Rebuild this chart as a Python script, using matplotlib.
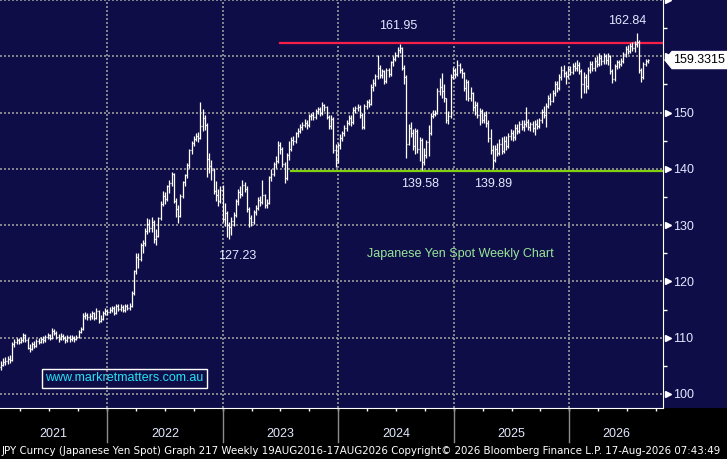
import numpy as np
import matplotlib
matplotlib.use('Agg')
import matplotlib.pyplot as plt
import matplotlib.transforms as mtrans
from matplotlib.collections import LineCollection
from matplotlib.patches import Polygon, Rectangle

plt.rcParams['font.family'] = ['Liberation Sans', 'DejaVu Sans']

# weekly USDJPY bars (close, high, low); open = previous close
first_open = 104.8
closes = [
105.2, 105.6, 105.9, 106.2, 106.0, 108.8, 109.2, 109.5, 109.3, 109.6,
110.5, 109.6, 108.2, 108.0, 108.9, 108.6, 109.4, 109.2, 109.8, 109.6,
110.1, 110.4, 110.0, 111.2, 110.9, 110.2, 109.8, 110.3, 110.0, 109.6,
110.2, 109.7, 110.0, 109.8, 110.1, 111.0, 111.6, 113.9, 114.0, 113.6,
113.8, 114.3, 113.5, 114.8, 113.0, 113.4, 114.4, 114.8, 114.6, 115.0,
115.3, 114.4, 115.6, 115.1, 115.5, 114.9, 115.6, 115.2, 115.7, 117.9,
121.8, 124.3, 123.9, 126.5, 126.8, 128.9, 130.2, 129.5, 130.6, 127.5,
128.0, 131.2, 133.8, 135.2, 134.6, 136.9, 137.4, 139.1, 134.3, 132.8,
131.7, 135.2, 137.6, 138.9, 140.6, 143.3, 144.6, 145.3, 145.9, 145.5,
147.6, 149.1, 147.8, 141.8, 140.5, 139.8, 136.0, 135.4, 134.2, 136.2,
131.1, 132.2, 130.0, 129.6, 130.7, 131.8, 134.3, 135.9, 135.6, 137.1,
136.5, 132.8, 131.2, 130.6, 132.3, 133.1, 134.5, 134.1, 135.3, 133.6,
134.0, 138.5, 139.1, 140.8, 141.4, 144.2, 143.5, 140.9, 138.4, 142.5,
143.6, 145.1, 144.9, 146.3, 146.8, 147.4, 147.8, 148.2, 147.7, 149.3,
149.6, 149.2, 150.3, 150.6, 149.9, 151.3, 150.9, 149.2, 147.6, 148.9,
143.4, 141.5, 144.2, 145.5, 146.3, 147.3, 148.2, 149.1, 148.3, 150.5,
150.8, 151.0, 149.6, 147.4, 151.2, 151.8, 151.6, 154.5, 155.3, 156.5,
158.0, 156.6, 157.3, 155.6, 157.5, 156.8, 158.9, 159.5, 160.2, 161.2,
161.4, 158.0, 156.3, 144.5, 147.3, 146.4, 144.0, 146.8, 143.5, 145.1,
141.2, 142.4, 144.7, 146.3, 149.4, 149.8, 150.0, 153.9, 154.6, 153.8,
152.5, 148.7, 149.4, 156.4, 157.5, 156.8, 158.4, 157.6, 157.0, 154.3,
155.5, 152.6, 153.4, 150.9, 151.3, 149.6, 150.2, 148.7, 149.5, 148.2,
145.4, 143.3, 141.6, 143.5, 142.8, 144.5, 143.1, 145.0, 144.0, 145.8,
146.3, 145.6, 147.3, 146.8, 148.0, 147.4, 147.9, 148.3, 147.4, 147.9,
147.3, 148.0, 147.6, 148.6, 150.1, 149.6, 151.2, 152.6, 152.1, 153.4,
155.1, 154.4, 156.3, 157.5, 157.0, 156.5, 157.8, 157.2, 158.3, 157.9,
158.5, 157.4, 155.0, 156.3, 154.8, 157.6, 158.6, 157.9, 159.2, 158.7,
159.7, 159.1, 160.0, 159.3, 160.1, 157.3, 156.0, 158.2, 158.9, 158.6,
159.2, 160.4, 161.3, 161.0, 161.8, 161.5, 162.2, 162.6, 157.6, 156.4,
158.6, 159.1, 159.3315]
highs = [
105.9, 106.3, 106.5, 106.8, 106.9, 109.2, 109.8, 110.0, 110.0, 110.2,
110.9, 110.7, 109.9, 108.8, 109.3, 109.4, 109.8, 109.9, 110.2, 110.3,
110.5, 110.8, 110.7, 111.7, 111.5, 111.1, 110.6, 110.8, 110.6, 110.3,
110.5, 110.4, 110.4, 110.3, 110.5, 111.4, 111.9, 114.4, 114.5, 114.4,
114.3, 114.7, 114.6, 115.3, 114.9, 114.0, 114.8, 115.2, 115.1, 115.4,
115.7, 115.6, 116.0, 115.9, 115.9, 115.8, 116.0, 115.9, 116.2, 118.3,
122.0, 125.0, 125.1, 126.8, 127.4, 129.4, 131.2, 131.0, 131.4, 130.9,
129.3, 131.5, 134.2, 136.0, 135.9, 137.2, 138.0, 139.4, 139.2, 134.9,
133.5, 135.5, 137.9, 139.1, 141.0, 143.6, 144.9, 145.9, 146.3, 146.6,
151.9, 150.6, 149.6, 148.1, 142.8, 141.6, 140.2, 137.9, 136.4, 137.0,
137.2, 133.9, 132.5, 130.6, 131.4, 132.3, 134.6, 136.4, 136.9, 138.0,
137.6, 136.9, 133.3, 131.8, 132.7, 133.6, 135.0, 135.1, 138.0, 135.6,
134.6, 138.8, 140.0, 141.3, 142.2, 145.0, 144.8, 143.9, 141.2, 142.9,
145.0, 145.6, 145.8, 146.6, 147.3, 147.9, 148.3, 148.8, 148.7, 149.7,
150.0, 150.1, 150.6, 151.0, 150.9, 151.9, 151.6, 151.1, 149.6, 149.5,
149.2, 144.5, 144.6, 146.2, 146.8, 147.8, 148.6, 149.5, 149.6, 150.9,
151.2, 151.5, 151.4, 149.9, 151.6, 152.2, 152.4, 155.0, 156.0, 156.9,
160.2, 158.4, 157.8, 157.6, 157.9, 157.9, 159.2, 160.0, 160.7, 161.6,
162.1, 161.6, 158.4, 156.6, 148.0, 148.3, 147.0, 147.2, 147.1, 145.6,
145.4, 143.7, 145.1, 147.8, 150.0, 150.4, 150.5, 154.4, 156.2, 157.0,
155.0, 152.6, 150.2, 156.9, 158.1, 158.0, 159.3, 158.8, 158.0, 157.2,
156.0, 155.8, 154.6, 153.6, 152.0, 151.8, 150.8, 150.6, 150.1, 150.2,
148.6, 147.0, 144.3, 144.2, 144.6, 145.3, 145.7, 145.9, 145.8, 146.4,
147.1, 146.9, 147.9, 148.0, 148.5, 148.6, 148.6, 151.0, 148.8, 148.4,
148.5, 148.6, 148.9, 149.0, 150.6, 151.2, 151.7, 153.1, 153.4, 154.0,
155.6, 155.6, 156.9, 158.2, 158.4, 157.4, 158.3, 158.2, 158.8, 158.9,
159.3, 158.9, 157.8, 157.2, 156.9, 158.1, 159.1, 159.2, 159.8, 160.0,
160.5, 160.3, 160.6, 160.4, 160.6, 160.3, 157.8, 158.7, 159.4, 159.3,
159.7, 160.8, 161.9, 162.0, 162.4, 162.5, 162.8, 164.1, 162.9, 158.0,
159.0, 159.6, 159.6]
lows = [
104.2, 104.9, 105.1, 105.4, 105.5, 105.9, 108.3, 108.8, 108.8, 109.0,
109.3, 109.2, 107.9, 107.5, 107.8, 108.2, 108.3, 108.8, 109.0, 109.1,
109.3, 109.8, 109.6, 109.8, 110.5, 109.8, 109.2, 109.6, 109.5, 109.1,
109.2, 109.3, 109.4, 109.3, 109.5, 109.9, 110.8, 111.4, 113.4, 113.1,
113.1, 113.4, 113.2, 113.3, 112.6, 112.7, 113.1, 114.1, 114.1, 114.3,
114.6, 114.1, 114.2, 114.7, 114.8, 114.5, 114.6, 114.9, 115.0, 115.5,
117.6, 121.3, 122.4, 123.6, 125.0, 126.3, 128.4, 128.8, 128.7, 126.9,
126.4, 127.8, 130.9, 133.4, 133.8, 134.3, 135.7, 136.9, 133.9, 131.5,
130.4, 131.5, 134.8, 137.0, 138.3, 140.2, 142.6, 144.0, 144.9, 144.8,
145.3, 146.8, 146.9, 138.5, 139.3, 138.0, 135.6, 134.3, 133.4, 133.9,
130.5, 129.8, 127.9, 127.6, 128.3, 129.9, 131.4, 133.6, 134.8, 135.2,
135.8, 132.3, 129.7, 129.9, 130.2, 131.8, 132.6, 133.4, 133.8, 133.1,
133.0, 133.8, 137.9, 138.7, 140.2, 141.1, 142.6, 140.4, 137.5, 138.1,
141.6, 143.1, 144.2, 144.6, 145.7, 146.4, 146.9, 147.4, 147.1, 147.5,
148.7, 148.6, 148.9, 149.8, 149.3, 149.6, 150.3, 148.8, 147.0, 147.1,
142.8, 140.3, 141.0, 143.6, 145.0, 145.8, 146.7, 147.7, 147.6, 148.0,
149.9, 150.2, 149.0, 147.0, 147.1, 150.7, 150.9, 151.3, 153.8, 154.8,
156.0, 156.1, 156.2, 155.0, 155.2, 156.3, 156.5, 158.3, 159.1, 159.8,
160.5, 157.6, 155.0, 141.9, 144.2, 145.6, 143.4, 142.6, 142.9, 141.4,
139.8, 140.6, 141.9, 142.3, 146.0, 149.0, 149.3, 149.7, 153.1, 152.5,
151.8, 148.2, 148.0, 149.1, 156.0, 156.2, 156.5, 157.0, 156.1, 153.8,
152.3, 152.0, 152.1, 150.3, 149.5, 149.1, 147.8, 148.1, 148.2, 147.5,
144.8, 142.7, 140.0, 141.2, 142.2, 142.4, 142.6, 142.9, 143.4, 143.7,
145.2, 144.9, 145.1, 146.2, 146.4, 146.9, 146.8, 147.5, 146.9, 146.8,
146.5, 146.0, 147.0, 147.2, 148.2, 149.0, 147.4, 150.8, 151.3, 151.8,
153.0, 153.7, 154.0, 155.8, 156.4, 155.0, 156.1, 156.6, 156.9, 157.3,
157.4, 156.8, 152.5, 153.5, 153.4, 154.2, 157.0, 157.3, 157.4, 158.1,
158.2, 158.5, 158.6, 158.7, 158.5, 156.9, 155.2, 155.6, 157.7, 158.0,
158.2, 158.8, 159.9, 160.4, 160.6, 160.9, 160.8, 161.7, 157.1, 155.4,
156.0, 158.2, 158.8]

resistance = 162.4
support = 139.66
peak_labels = ['161.95', '162.84']
trough_labels = ['139.58', '139.89', '127.23']
years = [2021, 2022, 2023, 2024, 2025, 2026]
price_ticks = [100, 110, 120, 130, 140, 150]

NAVY = '#0f0d48'
GRID = '#9a9a9a'
TXT = '#e4e9ff'
W, H = 727, 459

fig = plt.figure(figsize=(W / 100, H / 100), dpi=100, facecolor='black')
ax = fig.add_axes([0, 51 / H, 663 / W, 408 / H], facecolor=NAVY)
fig.add_artist(Rectangle((663 / W, 51 / H), 64 / W, 408 / H, transform=fig.transFigure,
                         fc=NAVY, ec='none', zorder=-1))

closes = np.array(closes)
opens = np.r_[first_open, closes[:-1]]
highs = np.maximum(np.array(highs), np.maximum(opens, closes))
lows = np.minimum(np.array(lows), np.minimum(opens, closes))
n = len(closes)
x = 2021.083 + np.arange(n) / 52.18
half = 0.45 / 52.18

segs = []
for i in range(n):
    segs.append([(x[i], lows[i]), (x[i], highs[i])])
    segs.append([(x[i] - half, opens[i]), (x[i], opens[i])])
    segs.append([(x[i], closes[i]), (x[i] + half, closes[i])])
ax.add_collection(LineCollection(segs, colors='white', linewidths=0.9, zorder=3))

xmin, xmax = 2021.074, 2026.810
ax.set_xlim(xmin, xmax)
ax.set_ylim(97.5, 170.0)

# dotted grid
for yr in years[1:]:
    ax.axvline(yr, color=GRID, lw=1.2, dashes=(1.2, 1.2), zorder=1)
for v in range(100, 171, 10):
    ax.axhline(v, color=GRID, lw=1.2, dashes=(1.2, 1.2), zorder=1)

# support / resistance
ax.plot([2023.497, xmax], [resistance, resistance], color='#f5204a', lw=1.6, zorder=2)
ax.plot([2023.592, xmax], [support, support], color='#80d010', lw=1.6, zorder=2)

fs = 9
ax.text(2024.517, 165.4, peak_labels[0], color=TXT, fontsize=fs, ha='center', va='center')
ax.text(2026.498, 166.25, peak_labels[1], color=TXT, fontsize=fs, ha='center', va='center')
ax.text(2024.708, 137.3, trough_labels[0], color=TXT, fontsize=fs, ha='center', va='center')
ax.text(2025.339, 137.3, trough_labels[1], color=TXT, fontsize=fs, ha='center', va='center')
ax.text(2023.125, 124.5, trough_labels[2], color=TXT, fontsize=fs, ha='center', va='center')
ax.text(2025.054, 124.9, 'Japanese Yen Spot Weekly Chart', color='#98e698', fontsize=fs,
        ha='center', va='center')
ax.text(2022.151, 102.75, 'www.markretmatters.com.au', color='#22e4f4', fontsize=fs,
        ha='center', va='center',
        bbox=dict(boxstyle='square,pad=0.25', fc='none', ec='white', lw=1))

# spines
for s in ['top', 'left']:
    ax.spines[s].set_visible(False)
ax.spines['bottom'].set_color('white')
ax.spines['right'].set_color('white')

# x axis: quarter ticks, no labels
quarters = [y + q for y in years for q in (0.0, 0.25, 0.5, 0.75) if xmin < y + q < xmax]
ax.set_xticks(quarters)
ax.set_xticklabels([])
ax.tick_params(axis='x', colors='white', length=2.5, width=1, direction='out')

# y axis on the right
ax.yaxis.tick_right()
ax.set_yticks(price_ticks)
ax.set_yticklabels([str(v) for v in price_ticks])
ax.set_yticks(np.arange(105, 170, 10), minor=True)
ax.tick_params(axis='y', which='major', length=0, pad=7.5, labelsize=fs, labelcolor=TXT)
ax.tick_params(axis='y', which='minor', length=3.2, width=1, colors='white', direction='out')
btrans = mtrans.blended_transform_factory(ax.transAxes, ax.transData)
ax.plot([1.0068] * 8, list(range(100, 171, 10)), ls='none', marker='>', ms=4.5,
        color='white', transform=btrans, clip_on=False, zorder=4)

# year labels and separators under the axis
ftrans = mtrans.blended_transform_factory(ax.transData, fig.transFigure)
for yr in years:
    lo_, hi_ = max(yr, xmin), min(yr + 1, xmax)
    ax.text((lo_ + hi_) / 2, 25 / H, str(yr), color=TXT, fontsize=fs, ha='center',
            va='center', transform=ftrans)
    if yr > years[0]:
        ax.plot([yr, yr], [17 / H, 51 / H], color='#8c8c8c', lw=1, transform=ftrans,
                clip_on=False)

# last price flag
fig.canvas.draw()
ypx = ax.transData.transform((2026.5, closes[-1]))[1]
pts = [(665, ypx), (672, ypx + 8.5), (727, ypx + 8.5), (727, ypx - 8.5), (672, ypx - 8.5)]
fig.add_artist(Polygon([(px / W, py / H) for px, py in pts], closed=True,
                       transform=fig.transFigure, fc='white', ec='white', zorder=5))
fig.text(699 / W, ypx / H, '%.4f' % closes[-1], color='black', fontsize=fs,
         ha='center', va='center', zorder=6)

# footer, scaled to span the width
foot = fig.text(2 / W, 8 / H,
                'JPY Curncy (Japanese Yen Spot) Graph 217 Weekly 19AUG2016-17AUG2026 '
                'Copyright\u00a9 2026 Bloomberg Finance L.P. 17-Aug-2026 07:43:49',
                color='white', fontsize=8, family='DejaVu Sans', ha='left', va='center')
r = fig.canvas.get_renderer()
wpx = foot.get_window_extent(r).width
foot.set_fontsize(8 * 722 / wpx)

fig.savefig('out.png', dpi=100, facecolor='black')
